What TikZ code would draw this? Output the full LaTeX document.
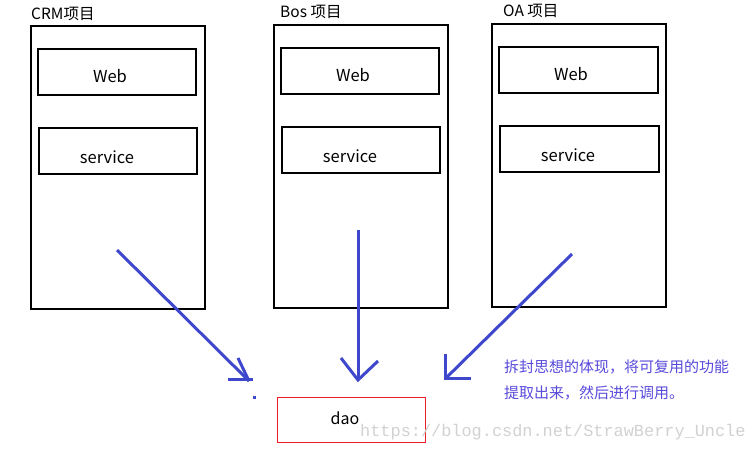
\documentclass[tikz,border=0pt]{standalone}
\usepackage{fontspec}
\setmainfont{Noto Sans CJK SC}
\newfontfamily\wmfont{Liberation Mono}
\definecolor{arrowblue}{RGB}{63,72,204}
\definecolor{notecol}{RGB}{88,74,218}
\definecolor{daored}{RGB}{237,28,36}
\definecolor{wmgray}{RGB}{210,210,210}
\begin{document}
\begin{tikzpicture}[x=1pt,y=-1pt,
  outerbox/.style={draw=black,line width=1.2pt},
  innerbox/.style={draw=black,line width=1.2pt},
  lbl/.style={font=\fontsize{15.5}{17}\selectfont,anchor=west,inner sep=0pt},
  itxt/.style={font=\fontsize{16.5}{18}\selectfont,inner sep=0pt},
  arr/.style={draw=arrowblue,line width=3pt},
  headl/.style={draw=arrowblue,line width=3pt}]
\useasboundingbox (0,0) rectangle (752,448);
\fill[white] (0,0) rectangle (752,448);
% outer project boxes
\draw[outerbox] (31,26) rectangle (205,309);
\draw[outerbox] (274,25) rectangle (448,308);
\draw[outerbox] (492,24) rectangle (666,307);
% labels
\node[lbl] (crmlbl) at (31,14) {CRM项目};
\node[lbl] (boslbl) at (280,12) {Bos 项目};
\node[lbl] (oalbl) at (503,11) {OA 项目};
% inner boxes
\draw[innerbox] (38,49) rectangle (196,95);
\draw[innerbox] (39,128) rectangle (197,174);
\draw[innerbox] (281,48) rectangle (439,94);
\draw[innerbox] (282,127) rectangle (440,173);
\draw[innerbox] (499,47) rectangle (658,93);
\draw[innerbox] (500,126) rectangle (659,172);
\node[itxt] (crmweb) at (110,76) {Web};
\node[itxt] (crmsvc) at (107,157) {service};
\node[itxt] (bosweb) at (353,75) {Web};
\node[itxt] (bossvc) at (350,156) {service};
\node[itxt] (oaweb) at (571,74) {Web};
\node[itxt] (oasvc) at (568,155) {service};
% dao box
\draw[draw=daored,line width=1pt] (277,397) rectangle (425,442);
\node[font=\fontsize{16}{18}\selectfont,inner sep=0pt] (dao) at (345,418) {dao};
% arrows
\coordinate (a1s) at (117,250);
\coordinate (a1t) at (249,381);
\coordinate (a1h) at (238,358);
\coordinate (a1l) at (228,379);
\coordinate (a1r) at (253,379);
\draw[arr] (a1s) -- (a1t);
\draw[headl] (a1h) -- (a1t);
\draw[headl] (a1l) -- (a1r);
\fill[arrowblue] (252.5,395.5) rectangle (255.5,399);
\coordinate (a2s) at (358,230);
\coordinate (a2t) at (358,380);
\coordinate (a2l) at (341,358);
\coordinate (a2r) at (378,361);
\draw[arr] (a2s) -- (a2t);
\draw[headl] (a2l) -- (a2t) -- (a2r);
\coordinate (a3s) at (572,254);
\coordinate (a3t) at (446,378);
\coordinate (a3u) at (445,355);
\coordinate (a3r) at (469,378);
\draw[arr] (a3s) -- (a3t);
\draw[headl,line cap=rect] (a3u) -- (445,378) -- (a3r);
% note
\node[font=\fontsize{15}{17}\selectfont,text=notecol,anchor=west,inner sep=0pt] (note1) at (504,367) {拆封思想的体现，将可复用的功能};
\node[font=\fontsize{15}{17}\selectfont,text=notecol,anchor=west,inner sep=0pt] (note2) at (504,393) {提取出来，然后进行调用。};
% watermark
\node[font=\wmfont\fontsize{16.9}{18}\selectfont,text=wmgray,anchor=west,inner sep=0pt] (wm) at (360,432) {https://blog.csdn.net/StrawBerry\_Uncle};
\end{tikzpicture}
\end{document}
